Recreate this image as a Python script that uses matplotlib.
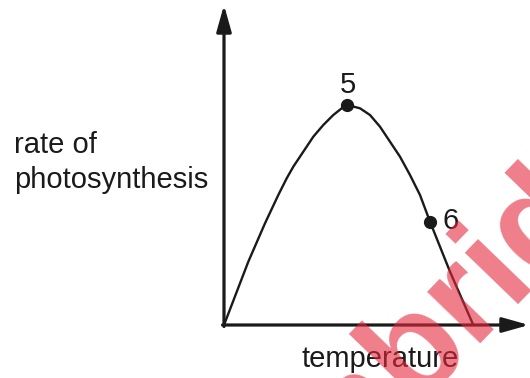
import matplotlib.pyplot as plt

# curve (arbitrary units)
temperature = [0, 4.86, 8.2, 10.86, 12.54, 13.86, 15.86, 17.86, 19.86, 21.86,
               23.54, 24.66, 27.2, 29.2, 31.2, 33.2, 35.2, 37.2, 39.2, 41.2,
               45.2, 49.86]
rate = [0, 12.66, 20.34, 26.0, 29.34, 31.66, 34.66, 37.66, 40.0, 42.0,
        43.34, 44.0, 43.34, 42.0, 39.66, 36.66, 33.66, 30.0, 26.0, 20.66,
        10.66, 0]

point_labels = ["5", "6"]
point_temp = [24.66, 41.2]
point_rate = [44.0, 20.66]

plt.rcParams['font.family'] = ['Liberation Sans', 'DejaVu Sans']
ink = "#1a1a1a"

fig = plt.figure(figsize=(5.3, 3.78), dpi=100)
ax = fig.add_axes([0, 0, 1, 1])
ax.set_xlim(-44.8, 61.2)
ax.set_ylim(-10.6, 65.0)
ax.axis("off")

# axes with arrow heads
arrow = dict(arrowstyle="-|>,head_length=1.6,head_width=0.45", lw=2.3,
             color=ink, shrinkA=0, shrinkB=0, mutation_scale=10)
ax.annotate("", xy=(0, 64.0), xytext=(0, -0.3), arrowprops=arrow)
ax.annotate("", xy=(61.0, 0), xytext=(-0.3, 0), arrowprops=arrow)

# curve and marked points
ax.plot(temperature, rate, color=ink, lw=1.7, solid_capstyle="round",
        solid_joinstyle="round")
ax.plot(point_temp, point_rate, "o", color=ink, ms=8.5)
ax.text(24.8, 46.4, point_labels[0], fontsize=21, ha="center",
        va="baseline", color=ink)
ax.text(43.8, 19.2, point_labels[1], fontsize=21, ha="left",
        va="baseline", color=ink)

# axis labels (baseline of the last line)
ax.text(-42.0, 27.4, "rate of\nphotosynthesis", fontsize=21,
        ha="left", va="baseline", linespacing=1.32, color=ink)
ax.text(15.6, -8.34, "temperature", fontsize=21, ha="left",
        va="baseline", color=ink)

# watermark
ax.text(41.4, -2.4, "Cambridge", fontsize=100, fontweight="bold",
        rotation=46, rotation_mode="anchor", ha="center", va="center",
        color="#e4283c", alpha=0.6, zorder=5)

fig.savefig("out.png", dpi=100)
